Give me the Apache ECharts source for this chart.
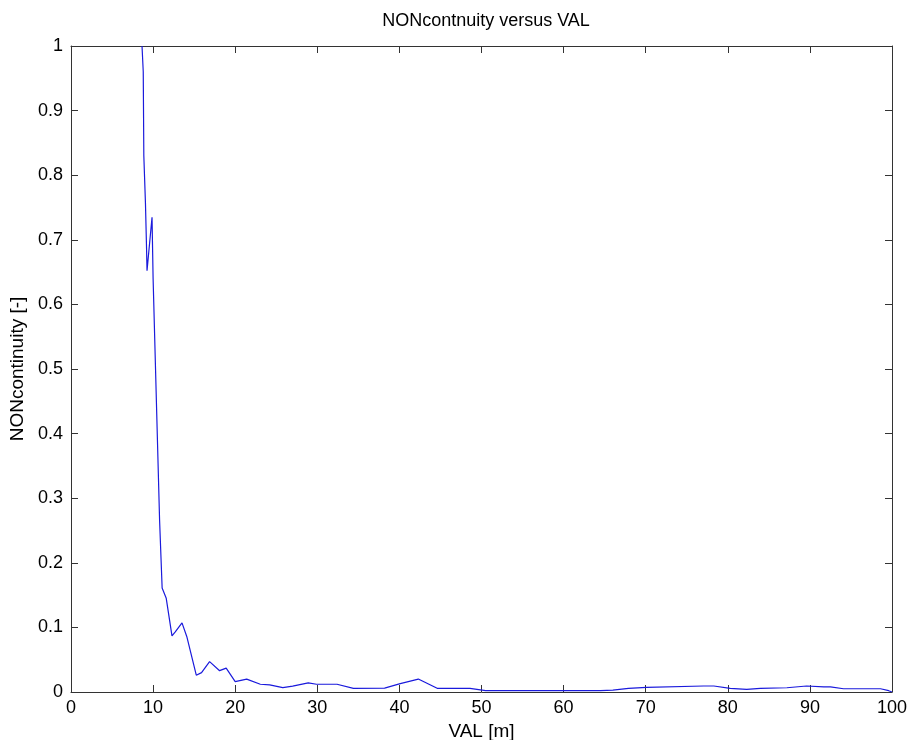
<!DOCTYPE html>
<html>
<head>
<meta charset="utf-8">
<script src="https://cdn.jsdelivr.net/npm/echarts@6/dist/echarts.min.js"></script>
<style>html,body{margin:0;padding:0;background:#fff;}#chart{width:909px;height:740px;}</style>
</head>
<body>
<div id="chart"></div>
<script>
var titleText = "NONcontnuity versus VAL";
var xName = "VAL [m]";
var yName = "NONcontinuity [-]";
var xVals = [8.65, 8.8, 8.87, 9.07, 9.2, 9.26, 9.87, 10.0, 10.79, 11.1, 11.6, 12.3, 12.7, 13.52, 14.1, 15.26, 15.9, 16.88, 18.1, 18.9, 20.0, 21.4, 23.06, 24.2, 25.8, 27.0, 28.9, 29.9, 32.4, 34.4, 38.2, 40.1, 42.3, 44.6, 48.6, 50.5, 64.5, 66.0, 67.9, 70.1, 77.05, 78.3, 80.3, 82.3, 83.96, 87.2, 89.6, 91.7, 92.5, 94.1, 98.6, 99.6, 100];
var yVals = [1.0, 0.96, 0.83, 0.756, 0.688, 0.652, 0.735, 0.64, 0.266, 0.161, 0.145, 0.087, 0.093, 0.107, 0.086, 0.026, 0.030, 0.047, 0.033, 0.037, 0.016, 0.020, 0.012, 0.011, 0.0067, 0.009, 0.014, 0.012, 0.012, 0.0057, 0.006, 0.013, 0.020, 0.0057, 0.0057, 0.002, 0.002, 0.003, 0.0057, 0.0073, 0.0093, 0.0093, 0.0057, 0.004, 0.0057, 0.0066, 0.0093, 0.008, 0.008, 0.005, 0.005, 0.002, 0.0];

var pts = xVals.map(function (x, i) { return [x, yVals[i]]; });
var font = "Liberation Sans, Arial, sans-serif";
var axisColor = "#333";
var chart = echarts.init(document.getElementById('chart'));
chart.setOption({
  animation: false,
  backgroundColor: '#fff',
  title: {
    text: titleText, left: 481, top: 7, textAlign: 'center',
    textStyle: { fontFamily: font, fontSize: 18, fontWeight: 'normal', color: '#000' }
  },
  grid: { left: 71, right: 17, top: 46, bottom: 48, containLabel: false, outerBoundsMode: 'none' },
  xAxis: [{
    type: 'value', min: 0, max: 100, interval: 10,
    name: xName, nameLocation: 'middle', nameGap: 28,
    nameTextStyle: { fontFamily: font, fontSize: 19, color: '#000' },
    axisLine: { onZero: false, lineStyle: { color: axisColor, width: 1 } },
    axisTick: { inside: true, length: 7, lineStyle: { color: axisColor } },
    axisLabel: { fontFamily: font, fontSize: 18, color: '#000', margin: 7 },
    splitLine: { show: false }
  }, {
    type: 'value', min: 0, max: 100, interval: 10, position: 'top',
    axisLine: { show: true, onZero: false, lineStyle: { color: axisColor, width: 1 } },
    axisTick: { show: true, inside: true, length: 7, lineStyle: { color: axisColor } },
    axisLabel: { show: false }, splitLine: { show: false }
  }],
  yAxis: [{
    type: 'value', min: 0, max: 1, interval: 0.1,
    name: yName, nameLocation: 'middle', nameGap: 43, nameRotate: 90,
    nameTextStyle: { fontFamily: font, fontSize: 19, color: '#000' },
    axisLine: { show: true, onZero: false, lineStyle: { color: axisColor, width: 1 } },
    axisTick: { show: true, inside: true, length: 7, lineStyle: { color: axisColor } },
    axisLabel: { fontFamily: font, fontSize: 18, color: '#000', margin: 8 },
    splitLine: { show: false }
  }, {
    type: 'value', min: 0, max: 1, interval: 0.1, position: 'right',
    axisLine: { show: true, onZero: false, lineStyle: { color: axisColor, width: 1 } },
    axisTick: { show: true, inside: true, length: 7, lineStyle: { color: axisColor } },
    axisLabel: { show: false }, splitLine: { show: false }
  }],
  series: [{
    type: 'line', data: pts, xAxisIndex: 0, yAxisIndex: 0,
    showSymbol: false, symbol: 'none',
    lineStyle: { color: '#1a1adc', width: 1.2 }
  }]
});
</script>
</body>
</html>
